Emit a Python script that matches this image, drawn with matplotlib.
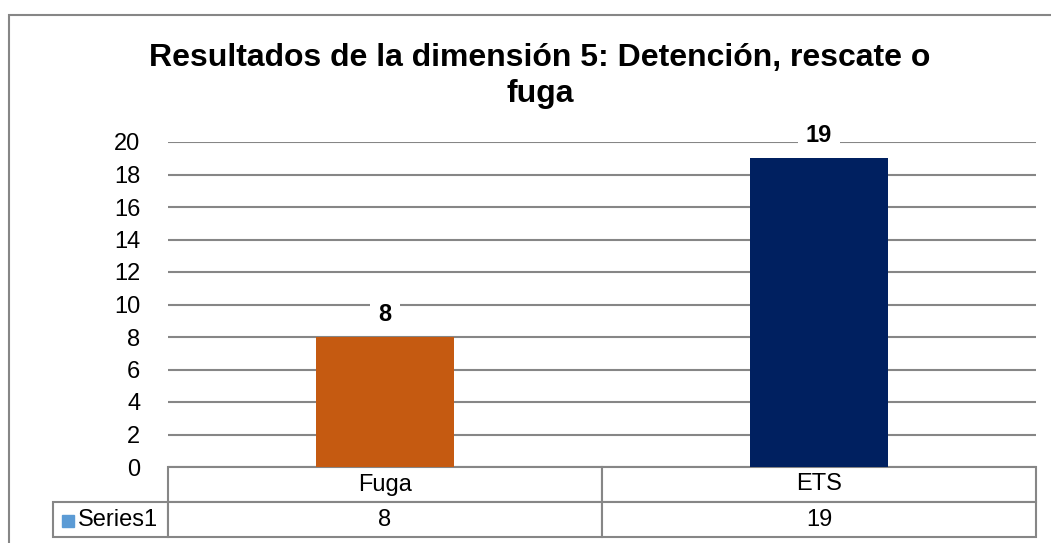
import matplotlib.pyplot as plt
from matplotlib.patches import Rectangle

categories = ['Fuga', 'ETS']
values = [8, 19]
series_name = 'Series1'
bar_colors = ['#C55A11', '#002060']
yticks = [0, 2, 4, 6, 8, 10, 12, 14, 16, 18, 20]

plt.rcParams['font.family'] = ['Liberation Sans', 'DejaVu Sans']
grid_c = '#868686'

W, H = 1051, 543
fig = plt.figure(figsize=(W / 100, H / 100), dpi=100)

# outer chart border (runs off the right and bottom edge)
fig.patches.append(Rectangle((9 / W, -0.1), 1.2, 1 - 15 / H + 0.1, transform=fig.transFigure,
                             fill=False, edgecolor=grid_c, linewidth=1.5))

ax = fig.add_axes([168 / W, 1 - 467 / H, 868 / W, 325 / H])
x = range(len(categories))
ax.bar(x, values, width=0.316, color=bar_colors, zorder=2)
ax.set_xlim(-0.5, len(categories) - 0.5)
ax.set_ylim(0, 20)
ax.set_yticks(yticks)
ax.set_xticks([])
ax.tick_params(axis='y', length=0, labelsize=17, pad=20)
ax.grid(axis='y', color=grid_c, linewidth=1.5, zorder=0)
for s in ax.spines.values():
    s.set_visible(False)

for xi, v in zip(x, values):
    ax.annotate(str(v), (xi, v), xytext=(0, 16.5), textcoords='offset points',
                ha='center', va='center', fontsize=17, fontweight='bold', zorder=3,
                bbox=dict(boxstyle='square,pad=0.35', fc='white', ec='none'))

fig.text(540 / W, 1 - 76 / H, 'Resultados de la dimensión 5: Detención, rescate o\nfuga',
         ha='center', va='center', fontsize=23, fontweight='bold', linespacing=1.25)

tab = ax.table(cellText=[[str(v) for v in values]], rowLabels=[series_name],
               colLabels=categories, cellLoc='center',
               bbox=[0, -70 / 325, 1, 70 / 325])
tab.auto_set_font_size(False)
tab.set_fontsize(17)
for (r, c), cell in tab.get_celld().items():
    cell.set_edgecolor(grid_c)
    cell.set_linewidth(1.5)
    cell.set_width(113 / 868 if c == -1 else 0.5)
    if c == -1:
        cell._loc = 'left'
        cell.PAD = 0.22

fig.patches.append(Rectangle((62 / W, 1 - 527 / H), 12 / W, 12 / H, transform=fig.transFigure,
                             color='#5B9BD5'))

fig.savefig('out.png', dpi=100)
